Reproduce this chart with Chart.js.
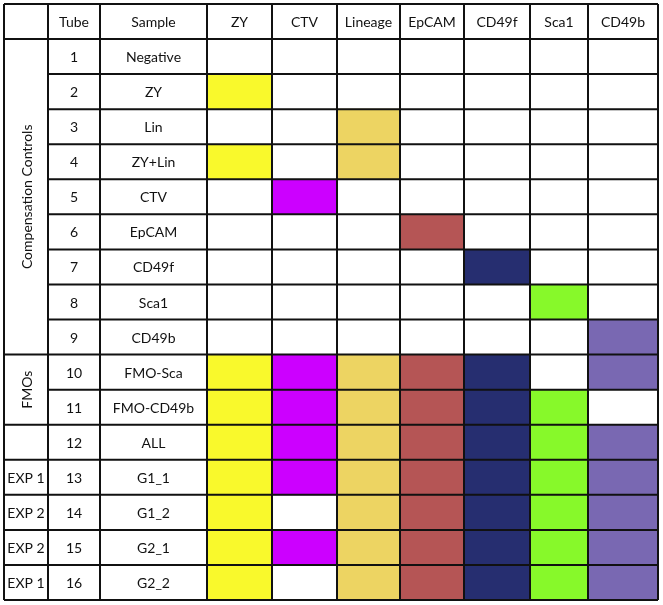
<!DOCTYPE html>
<html>
<head>
<meta charset="utf-8">
<script src="https://cdn.jsdelivr.net/npm/chart.js@4"></script>
<style>
  body { margin: 0; background: #fff; }
  #wrap { width: 663px; height: 605px; }
</style>
</head>
<body>
<div id="wrap"><canvas id="table"></canvas></div>
<script>
// column headers
const headers = ['', 'Tube', 'Sample', 'ZY', 'CTV', 'Lineage', 'EpCAM', 'CD49f', 'Sca1', 'CD49b'];
const markers = ['ZY', 'CTV', 'Lineage', 'EpCAM', 'CD49f', 'Sca1', 'CD49b'];

// rows
const tubes = ['1', '2', '3', '4', '5', '6', '7', '8', '9', '10', '11', '12', '13', '14', '15', '16'];
const samples = ['Negative', 'ZY', 'Lin', 'ZY+Lin', 'CTV', 'EpCAM', 'CD49f', 'Sca1', 'CD49b',
  'FMO-Sca', 'FMO-CD49b', 'ALL', 'G1_1', 'G1_2', 'G2_1', 'G2_2'];

// group column (merged cells)
const groupNames = ['Compensation Controls', 'FMOs', '', 'EXP 1', 'EXP 2', 'EXP 2', 'EXP 1'];
const groupSpans = [9, 2, 1, 1, 1, 1, 1];

// which tubes carry each stain (1 = filled)
const stZY      = [0,1,0,1,0,0,0,0,0,1,1,1,1,1,1,1];
const stCTV     = [0,0,0,0,1,0,0,0,0,1,1,1,1,0,1,0];
const stLineage = [0,0,1,1,0,0,0,0,0,1,1,1,1,1,1,1];
const stEpCAM   = [0,0,0,0,0,1,0,0,0,1,1,1,1,1,1,1];
const stCD49f   = [0,0,0,0,0,0,1,0,0,1,1,1,1,1,1,1];
const stSca1    = [0,0,0,0,0,0,0,1,0,0,1,1,1,1,1,1];
const stCD49b   = [0,0,0,0,0,0,0,0,1,1,0,1,1,1,1,1];

// layout / style
const colWidths = [44, 52, 107, 65, 65, 63, 64, 66, 58, 70];
const colors = ['#f9f92c', '#cc00ff', '#edd462', '#b55555', '#262e70', '#87f92a', '#7968b2'];
const FONT = '14px Lato, "Open Sans", sans-serif';

const stains = [stZY, stCTV, stLineage, stEpCAM, stCD49f, stSca1, stCD49b];
const colEdges = [0];
colWidths.forEach(w => colEdges.push(colEdges[colEdges.length - 1] + w));
const rowLabels = ['hdr', ...tubes];

const datasets = markers.map((m, k) => ({
  label: m,
  data: [null, ...stains[k].map(v => v ? [colEdges[k + 3], colEdges[k + 4]] : null)],
  backgroundColor: colors[k],
  borderWidth: 0,
  borderSkipped: false,
  grouped: false,
  barPercentage: 1,
  categoryPercentage: 1
}));

const tablePlugin = {
  id: 'tableLines',
  afterDatasetsDraw(chart) {
    const { ctx, scales: { x, y } } = chart;
    const half = (y.getPixelForValue(1) - y.getPixelForValue(0)) / 2;
    const rowTop = i => y.getPixelForValue(i) - half;
    const nRows = rowLabels.length;
    const cx = c => (x.getPixelForValue(colEdges[c]) + x.getPixelForValue(colEdges[c + 1])) / 2;

    ctx.save();
    ctx.fillStyle = '#111';
    ctx.font = FONT;
    ctx.textAlign = 'center';
    ctx.textBaseline = 'middle';

    // header
    headers.forEach((h, c) => ctx.fillText(h, cx(c), y.getPixelForValue(0) + 1));
    // tube + sample
    tubes.forEach((t, i) => {
      const py = y.getPixelForValue(i + 1) + 1;
      ctx.fillText(t, cx(1), py);
      ctx.fillText(samples[i], cx(2), py);
    });
    // groups
    let start = 1;
    const groupBreaks = [1];
    groupNames.forEach((g, gi) => {
      const end = start + groupSpans[gi];
      const midY = (rowTop(start) + rowTop(end)) / 2;
      if (groupSpans[gi] > 1) {
        ctx.save();
        ctx.translate(cx(0), midY);
        ctx.rotate(-Math.PI / 2);
        ctx.fillText(g, 0, 1);
        ctx.restore();
      } else {
        ctx.fillText(g, cx(0), midY + 1);
      }
      groupBreaks.push(end);
      start = end;
    });

    // grid lines
    ctx.strokeStyle = '#111';
    ctx.lineWidth = 2;
    ctx.beginPath();
    colEdges.forEach(e => {
      const px = x.getPixelForValue(e);
      ctx.moveTo(px, rowTop(0));
      ctx.lineTo(px, rowTop(nRows));
    });
    for (let r = 0; r <= nRows; r++) {
      const py = rowTop(r);
      const x0 = groupBreaks.includes(r) || r === 0 || r === nRows
        ? x.getPixelForValue(colEdges[0]) : x.getPixelForValue(colEdges[1]);
      ctx.moveTo(x0, py);
      ctx.lineTo(x.getPixelForValue(colEdges[colEdges.length - 1]), py);
    }
    ctx.stroke();
    ctx.restore();
  }
};

new Chart(document.getElementById('table'), {
  type: 'bar',
  data: { labels: rowLabels, datasets: datasets },
  options: {
    indexAxis: 'y',
    responsive: true,
    maintainAspectRatio: false,
    animation: false,
    layout: { padding: { left: 4, right: 5, top: 4, bottom: 5 } },
    scales: {
      x: { type: 'linear', min: 0, max: colEdges[colEdges.length - 1], display: false },
      y: { type: 'category', display: false }
    },
    plugins: {
      legend: { display: false },
      tooltip: { enabled: false }
    }
  },
  plugins: [tablePlugin]
});
</script>
</body>
</html>
